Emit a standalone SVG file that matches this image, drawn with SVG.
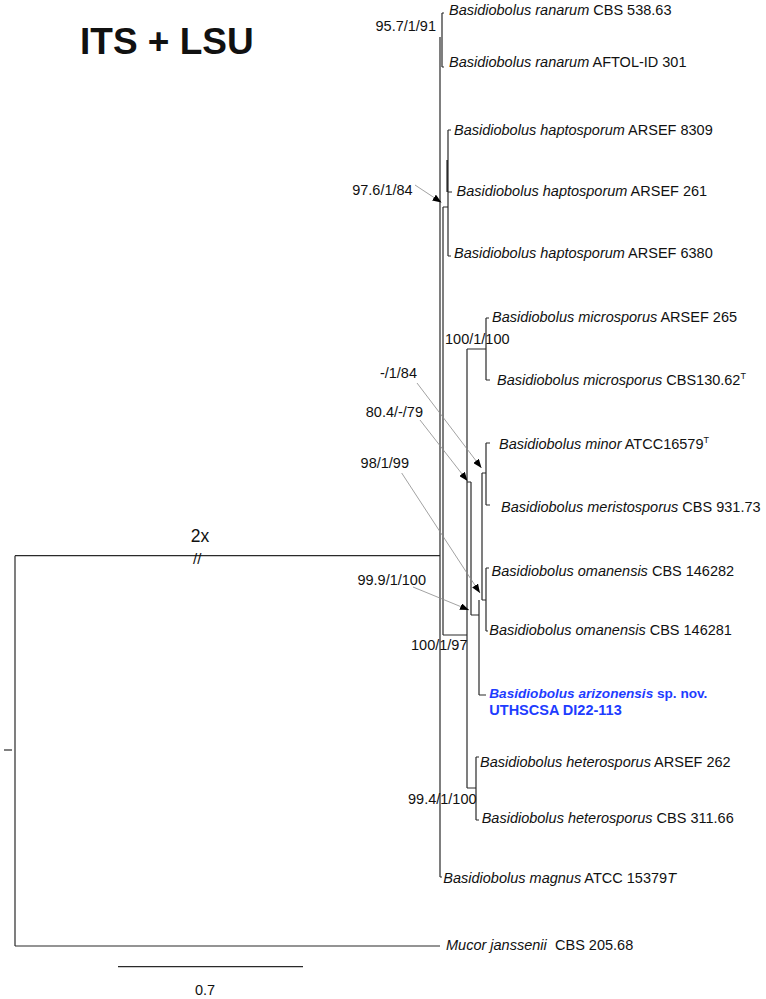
<svg xmlns="http://www.w3.org/2000/svg" width="766" height="999" viewBox="0 0 766 999">
<style>
text{font-family:"Liberation Sans",Arial,sans-serif;font-size:14.5px;fill:#111}
.i{font-style:italic}
.t{fill:none;stroke:#2a2a2a;stroke-width:1.2}
.a{fill:none;stroke:#8a8a8a;stroke-width:0.8}
.b{fill:#1e3cff;font-weight:bold}
.sup{font-size:9px}
</style>
<defs>
<marker id="ah" markerWidth="9" markerHeight="7" refX="9" refY="3.5" orient="auto" markerUnits="userSpaceOnUse">
<path d="M0,0 L9,3.5 L0,7 z" fill="#000"/>
</marker>
</defs>
<rect width="766" height="999" fill="#fff"/>
<text x="80" y="54" style="font-size:37px;font-weight:bold">ITS + LSU</text>

<g id="connectors">
<path class="t" d="M4,750 H12"/>
<path class="t" d="M15,555.7 V946 M15,555.7 H440 M15,946 H440"/>
<path class="t" d="M440,37 V877 M440,877 H442"/>
<path class="t" d="M442,13 V67 M442,13 H444 M442,67 H444"/>
<path class="t" d="M443,207 H448 M448,130 V256 M448,130 H451 M448,192 H452 M448,256 H451 M447,160 V192"/>
<path class="t" d="M443,207 V635 M443,635 H467 M467,349 V788"/>
<path class="t" d="M467,349 H486 M486,318 V380 M486,318 H489 M486,380 H490"/>
<path class="t" d="M467,788 H476 M476,757 V820 M476,757 H479 M476,820 H479"/>
<path class="t" d="M467,482 H471 M471,482 V615 M471,615 H479 M479,600 V695 M479,695 H486"/>
<path class="t" d="M482,473 V600 M482,473 H486 M486,443 V505 M486,443 H490 M486,505 H490"/>
<path class="t" d="M482,600 H486 M486,568 V631 M486,568 H489 M486,631 H488"/>
<path class="t" d="M118,966.7 H303"/>
<path class="a" d="M415,185 L441.5,202.5" marker-end="url(#ah)"/>
<path class="a" d="M417,383 L481.5,468" marker-end="url(#ah)"/>
<path class="a" d="M420,420 L467.5,481" marker-end="url(#ah)"/>
<path class="a" d="M401.7,473 L480,593" marker-end="url(#ah)"/>
<path class="a" d="M413,587 L469,610" marker-end="url(#ah)"/>
</g>

<g id="support-labels">
<text x="436" y="31" text-anchor="end">95.7/1/91</text>
<text x="412.7" y="195" text-anchor="end">97.6/1/84</text>
<text x="445" y="344">100/1/100</text>
<text x="417" y="378" text-anchor="end">-/1/84</text>
<text x="423" y="416.5" text-anchor="end">80.4/-/79</text>
<text x="409" y="467.5" text-anchor="end">98/1/99</text>
<text x="426" y="585" text-anchor="end">99.9/1/100</text>
<text x="411" y="649.5">100/1/97</text>
<text x="408" y="804">99.4/1/100</text>
</g>

<g id="branch-break">
<text x="190.7" y="541.7" style="font-size:17.5px">2x</text>
<text x="193" y="563.5" style="font-size:15px">//</text>
</g>

<g id="tip-ranarum-cbs"><text x="449" y="15"><tspan class="i">Basidiobolus ranarum</tspan> CBS 538.63</text></g>
<g id="tip-ranarum-aftol"><text x="449" y="66.5"><tspan class="i">Basidiobolus ranarum</tspan> AFTOL-ID 301</text></g>
<g id="tip-hapto-8309"><text x="454" y="135"><tspan class="i">Basidiobolus haptosporum</tspan> ARSEF 8309</text></g>
<g id="tip-hapto-261"><text x="456.5" y="196"><tspan class="i">Basidiobolus haptosporum</tspan> ARSEF 261</text></g>
<g id="tip-hapto-6380"><text x="454" y="258"><tspan class="i">Basidiobolus haptosporum</tspan> ARSEF 6380</text></g>
<g id="tip-micro-265"><text x="492" y="322"><tspan class="i">Basidiobolus microsporus</tspan> ARSEF 265</text></g>
<g id="tip-micro-cbs"><text x="497" y="385"><tspan class="i">Basidiobolus microsporus</tspan> CBS130.62<tspan class="sup" dy="-6">T</tspan></text></g>
<g id="tip-minor"><text x="499" y="448.5"><tspan class="i">Basidiobolus minor</tspan> ATCC16579<tspan class="sup" dy="-6">T</tspan></text></g>
<g id="tip-meristo"><text x="501" y="512"><tspan class="i">Basidiobolus meristosporus</tspan> CBS 931.73</text></g>
<g id="tip-omanensis-282"><text x="491.5" y="576"><tspan class="i">Basidiobolus omanensis</tspan> CBS 146282</text></g>
<g id="tip-omanensis-281"><text x="489.3" y="635"><tspan class="i">Basidiobolus omanensis</tspan> CBS 146281</text></g>
<g id="tip-arizonensis">
<text x="489.3" y="698" class="b" style="font-size:13.6px"><tspan class="i">Basidiobolus arizonensis</tspan> sp. nov.</text>
<text x="489.3" y="714.5" class="b">UTHSCSA DI22-113</text>
</g>
<g id="tip-hetero-262"><text x="480" y="767"><tspan class="i">Basidiobolus heterosporus</tspan> ARSEF 262</text></g>
<g id="tip-hetero-311"><text x="481.7" y="822.5"><tspan class="i">Basidiobolus heterosporus</tspan> CBS 311.66</text></g>
<g id="tip-magnus"><text x="443.3" y="883"><tspan class="i">Basidiobolus magnus</tspan> ATCC 15379<tspan class="i">T</tspan></text></g>
<g id="tip-mucor"><text x="446" y="950"><tspan class="i">Mucor janssenii</tspan><tspan x="555">CBS 205.68</tspan></text></g>
<g id="scale"><text x="205" y="995" text-anchor="middle">0.7</text></g>
</svg>
